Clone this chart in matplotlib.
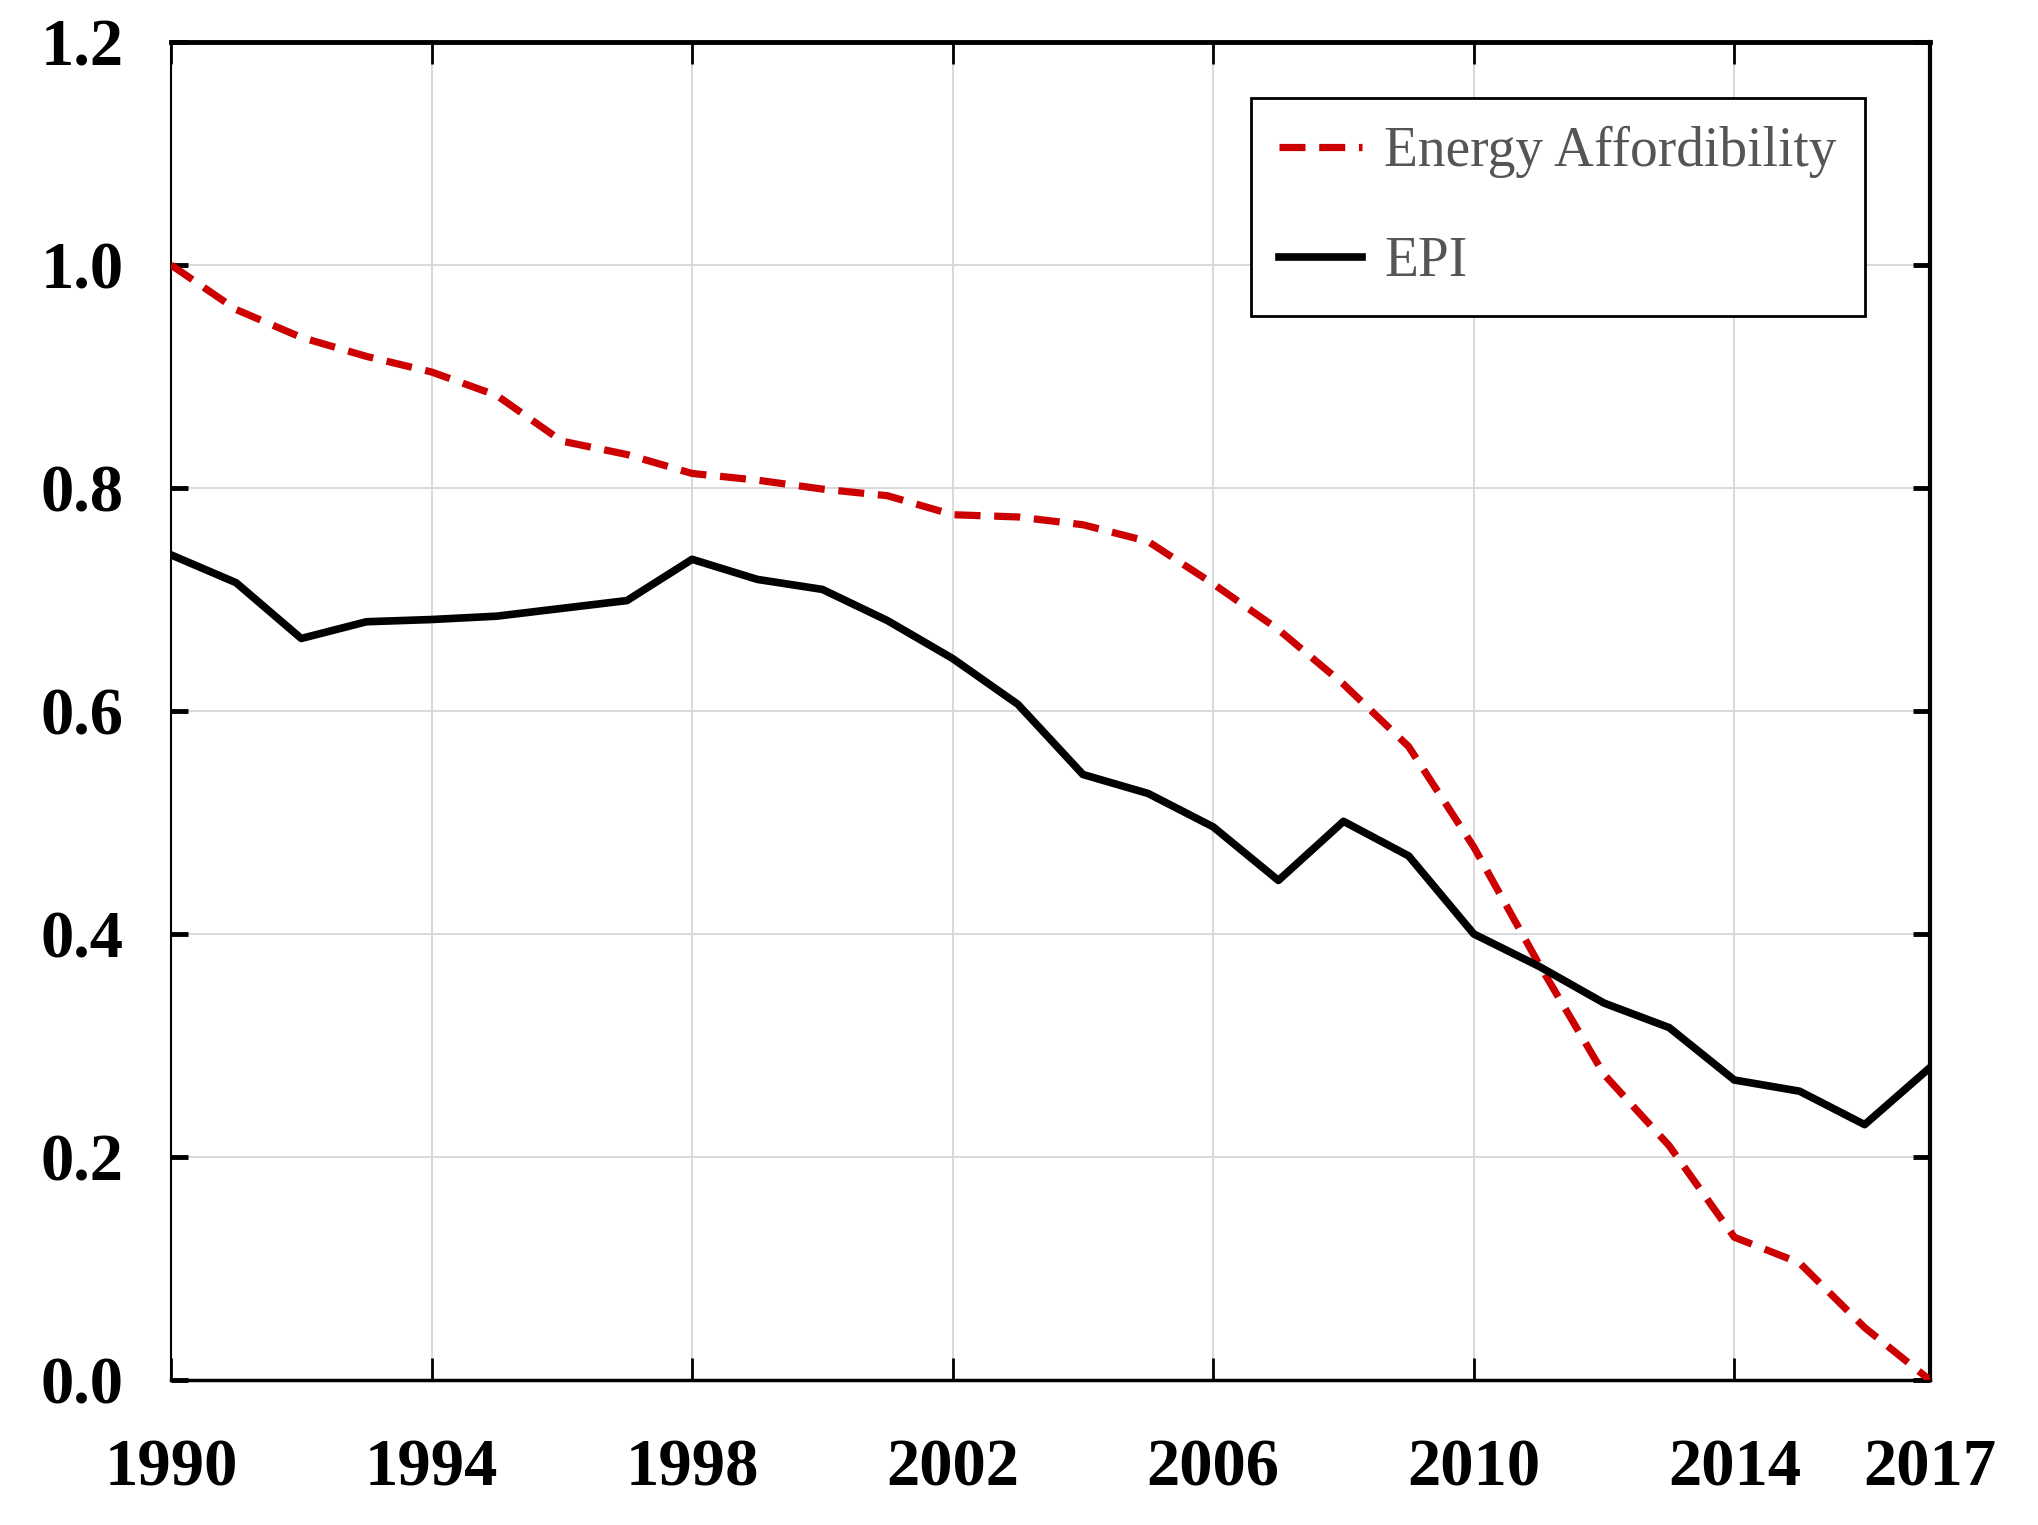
import matplotlib.pyplot as plt
import numpy as np

# values
years = list(range(1990, 2018))
energy_affordability = [1.000, 0.960, 0.935, 0.918, 0.904, 0.883, 0.842, 0.830,
                        0.813, 0.807, 0.799, 0.793, 0.776, 0.774, 0.767, 0.752,
                        0.714, 0.673, 0.624, 0.568, 0.478, 0.373, 0.274, 0.210,
                        0.128, 0.105, 0.047, 0.000]
epi = [0.740, 0.715, 0.665, 0.680, 0.682, 0.685, 0.692, 0.699,
       0.736, 0.718, 0.709, 0.681, 0.647, 0.606, 0.543, 0.526,
       0.496, 0.448, 0.501, 0.470, 0.400, 0.371, 0.338, 0.316,
       0.269, 0.259, 0.229, 0.280]
x_ticks = [1990, 1994, 1998, 2002, 2006, 2010, 2014, 2017]
y_ticks = [0.0, 0.2, 0.4, 0.6, 0.8, 1.0, 1.2]

plt.rcParams['font.family'] = ['Liberation Serif', 'DejaVu Serif']

fig = plt.figure(figsize=(20.38, 15.25), dpi=100)
ax = fig.add_axes([0.0839, 0.0951, 0.8630, 0.8774])

ax.plot(years, energy_affordability, color='#cc0000', linewidth=5.2,
        dashes=(3.6, 1.9), label='Energy Affordibility', zorder=3)
ax.plot(years, epi, color='black', linewidth=5.5, label='EPI', zorder=3)

ax.set_xlim(1990, 2017)
ax.set_ylim(0.0, 1.2)
ax.set_xticks(x_ticks)
ax.set_yticks(y_ticks)
ax.set_yticklabels([f'{v:.1f}' for v in y_ticks])

ax.grid(True, color='#d9d9d9', linewidth=1.4, zorder=0)

ax.tick_params(axis='x', direction='in', length=16, width=2, top=True,
               labelsize=48, pad=42)
ax.tick_params(axis='y', direction='in', length=12, width=3.5, right=True,
               labelsize=48, pad=34)
for lbl in ax.get_xticklabels() + ax.get_yticklabels():
    lbl.set_fontweight('bold')

ax.spines['top'].set_linewidth(3.5)
ax.spines['right'].set_linewidth(3)
ax.spines['bottom'].set_linewidth(2.5)
ax.spines['left'].set_linewidth(1.5)

leg = ax.legend(loc='upper right', bbox_to_anchor=(0.963, 0.958),
                borderaxespad=0, fontsize=40, frameon=True, fancybox=False,
                framealpha=1, handlelength=1.5, handletextpad=0.4,
                labelspacing=1.05, borderpad=0.5)
leg.get_frame().set_edgecolor('black')
leg.get_frame().set_linewidth(2)
for t in leg.get_texts():
    t.set_color('#555555')

fig.savefig('out.png', dpi=100)
